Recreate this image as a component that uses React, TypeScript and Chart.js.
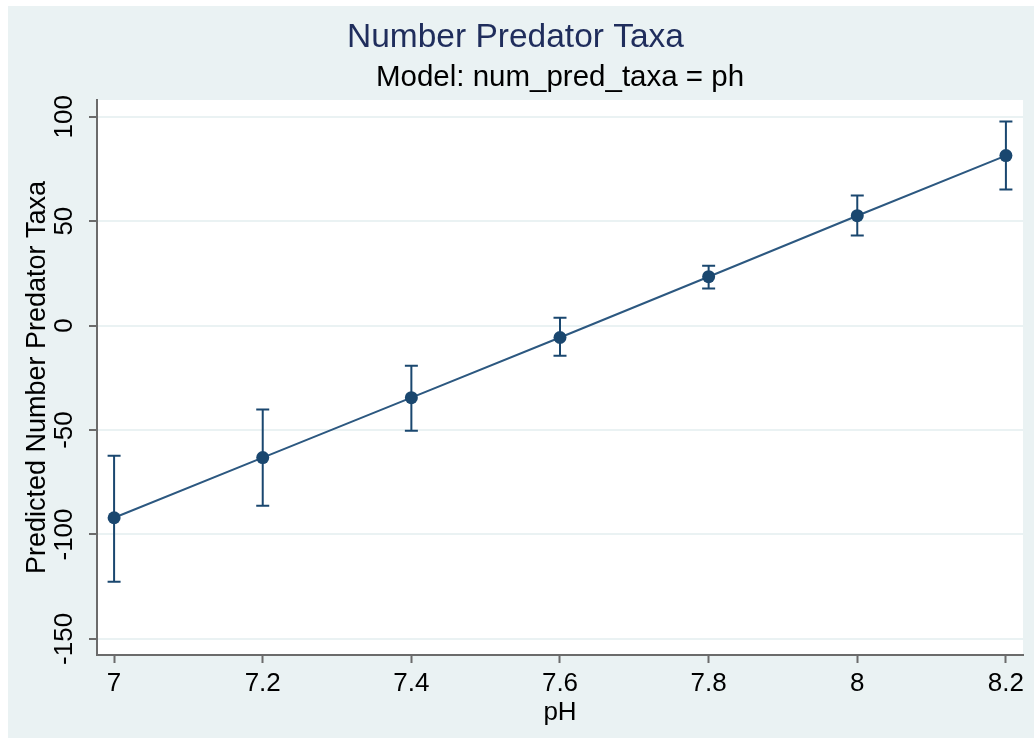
import React, { useEffect, useRef } from "react";
import { Chart, registerables } from "chart.js";

Chart.register(...registerables);

const phValues = [7, 7.2, 7.4, 7.6, 7.8, 8, 8.2];
const predicted = [-92, -63.2, -34.5, -5.7, 23.4, 52.6, 81.4];
const upperCI = [-62.3, -40.2, -19.2, 3.8, 28.7, 62.3, 97.7];
const lowerCI = [-122.6, -86.2, -50.3, -14.4, 17.7, 43.1, 65.1];
const xTicks = [7, 7.2, 7.4, 7.6, 7.8, 8, 8.2];
const yTicks = [-150, -100, -50, 0, 50, 100];

const titleText = "Number Predator Taxa";
const subtitleText = "Model: num_pred_taxa = ph";
const xTitle = "pH";
const yTitle = "Predicted Number Predator Taxa";

const BG = "#eaf2f3";
const NAVY = "#1a476f";
const AXIS = "#6b6b6b";
const FONT = "'Liberation Sans', Arial, Helvetica, sans-serif";

const backgroundPlugin = {
  id: "stataBackground",
  beforeDraw(chart: any) {
    const { ctx, chartArea, width, height } = chart;
    ctx.save();
    ctx.fillStyle = BG;
    ctx.fillRect(0, 0, width, height);
    ctx.fillStyle = "#ffffff";
    ctx.fillRect(chartArea.left, chartArea.top, chartArea.right - chartArea.left, chartArea.bottom - chartArea.top);
    ctx.restore();
  },
};

const errorBarPlugin = {
  id: "errorBars",
  beforeDatasetsDraw(chart: any) {
    const { ctx } = chart;
    const xs = chart.scales.x;
    const ys = chart.scales.y;
    ctx.save();
    ctx.strokeStyle = NAVY;
    ctx.lineWidth = 2;
    const half = 6.5;
    for (let i = 0; i < phValues.length; i++) {
      const px = xs.getPixelForValue(phValues[i]);
      const top = ys.getPixelForValue(upperCI[i]);
      const bot = ys.getPixelForValue(lowerCI[i]);
      ctx.beginPath();
      ctx.moveTo(px, top);
      ctx.lineTo(px, bot);
      ctx.moveTo(px - half, top);
      ctx.lineTo(px + half, top);
      ctx.moveTo(px - half, bot);
      ctx.lineTo(px + half, bot);
      ctx.stroke();
    }
    ctx.restore();
  },
};

const subtitlePlugin = {
  id: "offsetSubtitle",
  afterDraw(chart: any) {
    const { ctx, chartArea } = chart;
    ctx.save();
    ctx.font = `29.5px ${FONT}`;
    ctx.fillStyle = "#000000";
    ctx.textAlign = "center";
    ctx.textBaseline = "alphabetic";
    ctx.fillText(subtitleText, (chartArea.left + chartArea.right) / 2, 80);
    ctx.restore();
  },
};

export default function App() {
  const canvasRef = useRef<HTMLCanvasElement | null>(null);

  useEffect(() => {
    if (!canvasRef.current) return;
    const chart = new Chart(canvasRef.current, {
      type: "scatter",
      data: {
        datasets: [
          {
            data: phValues.map((x, i) => ({ x, y: predicted[i] })),
            showLine: true,
            borderColor: "#2c5880",
            borderWidth: 2,
            backgroundColor: NAVY,
            pointBackgroundColor: NAVY,
            pointBorderWidth: 0,
            pointRadius: 6.5,
            pointHoverRadius: 6.5,
            clip: false as any,
          },
        ],
      },
      options: {
        responsive: false,
        animation: false,
        devicePixelRatio: 1,
        layout: { padding: { left: 0, right: 11, top: 0, bottom: 0 } },
        plugins: {
          legend: { display: false },
          tooltip: { enabled: false },
          title: {
            display: true,
            text: titleText,
            color: "#1f2d5c",
            font: { size: 33.5, weight: "normal", family: FONT },
            padding: { top: 11.3, bottom: 42.5 },
          },
        },
        scales: {
          x: {
            type: "linear",
            min: 6.977,
            max: 8.223,
            afterBuildTicks: (scale: any) => {
              scale.ticks = xTicks.map((v) => ({ value: v }));
            },
            afterFit: (scale: any) => {
              scale.height = 83;
            },
            ticks: {
              color: "#000000",
              font: { size: 26, family: FONT },
              padding: 5,
              maxRotation: 0,
              minRotation: 0,
              autoSkip: false,
              callback: (v: any) => String(v),
            },
            grid: {
              drawOnChartArea: false,
              drawTicks: true,
              tickLength: 8,
              tickColor: AXIS,
              tickWidth: 2,
            },
            border: { display: true, color: AXIS, width: 2 },
            title: {
              display: true,
              text: xTitle,
              color: "#000000",
              font: { size: 26, family: FONT },
              padding: { top: 0, bottom: 9.4 },
            },
          },
          y: {
            type: "linear",
            min: -157.7,
            max: 108,
            afterBuildTicks: (scale: any) => {
              scale.ticks = yTicks.map((v) => ({ value: v }));
            },
            afterFit: (scale: any) => {
              scale.width = 89;
            },
            ticks: {
              color: "#000000",
              font: { size: 26, family: FONT },
              padding: -2,
              minRotation: 90,
              maxRotation: 90,
              crossAlign: "center",
              autoSkip: false,
              callback: (v: any) => String(v),
            },
            grid: {
              drawOnChartArea: true,
              color: BG,
              lineWidth: 2,
              drawTicks: true,
              tickLength: 8,
              tickColor: AXIS,
              tickWidth: 2,
            },
            border: { display: true, color: AXIS, width: 2 },
            title: {
              display: true,
              text: yTitle,
              color: "#000000",
              font: { size: 27, family: FONT },
              padding: { top: 13, bottom: 0 },
            },
          },
        },
      } as any,
      plugins: [backgroundPlugin, errorBarPlugin, subtitlePlugin],
    });
    return () => chart.destroy();
  }, []);

  return (
    <div style={{ position: "fixed", left: 8, top: 6, width: 1026, height: 732 }}>
      <canvas ref={canvasRef} width={1026} height={732} style={{ display: "block" }} />
    </div>
  );
}
